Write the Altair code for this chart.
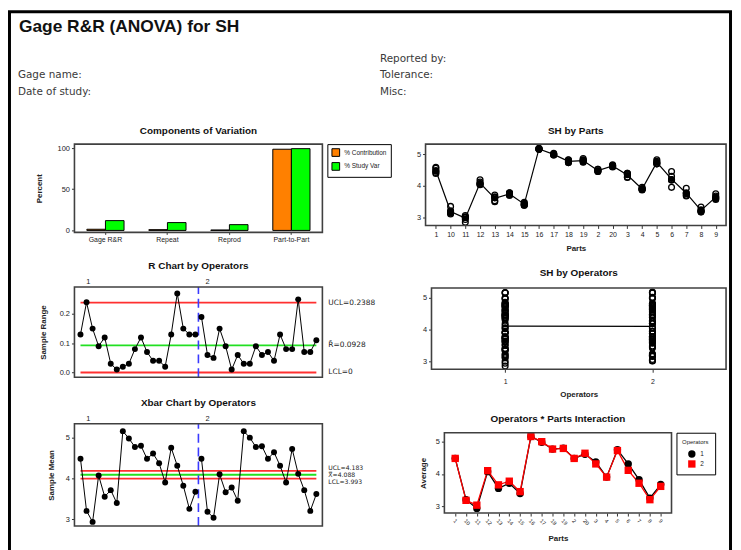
import altair as alt
import pandas as pd

# ---------------- data ----------------
parts = ["1", "10", "11", "12", "13", "14", "15", "16", "17", "18",
         "19", "2", "20", "3", "4", "5", "6", "7", "8", "9"]
operators = ["1", "2"]

op1_trial1 = [4.55, 3.35, 3.00, 4.12, 3.62, 3.73, 3.39, 5.17, 5.00, 4.81, 4.86, 4.52, 4.63, 4.39, 3.91, 4.82, 4.45, 3.92, 3.33, 3.75]
op1_trial2 = [4.47, 3.14, 2.94, 4.06, 3.53, 3.70, 3.40, 5.16, 4.97, 4.77, 4.80, 4.47, 4.61, 4.37, 3.90, 4.74, 4.30, 3.77, 3.22, 3.64]
op1_trial3 = [4.42, 3.11, 2.85, 4.03, 3.50, 3.70, 3.39, 5.15, 4.97, 4.73, 4.74, 4.45, 4.59, 4.35, 3.89, 4.69, 4.18, 3.77, 3.20, 3.62]
op2_trial1 = [4.58, 3.21, 3.06, 4.19, 3.71, 3.78, 3.48, 5.18, 5.02, 4.82, 4.82, 4.52, 4.66, 4.39, 3.95, 4.77, 4.20, 3.75, 3.24, 3.68]
op2_trial2 = [4.47, 3.18, 3.02, 4.07, 3.65, 3.77, 3.45, 5.15, 4.99, 4.76, 4.79, 4.47, 4.64, 4.28, 3.88, 4.71, 4.18, 3.70, 3.19, 3.59]
op2_trial3 = [4.39, 3.15, 3.01, 4.04, 3.62, 3.77, 3.42, 5.15, 4.99, 4.73, 4.76, 4.45, 4.62, 4.26, 3.87, 4.69, 3.95, 3.68, 3.17, 3.57]

components = ["Gage R&R", "Repeat", "Reprod", "Part-to-Part"]
component_types = ["% Contribution", "% Study Var"]
pct_contribution = [1.4, 0.9, 0.5, 98.6]
pct_study_var = [11.9, 9.5, 7.0, 99.3]

r_limit_values = [0.2388, 0.0928, 0.0]
r_limit_labels = ["UCL=0.2388", "R\u0304=0.0928", "LCL=0"]
x_limit_values = [4.183, 4.088, 3.993]
x_limit_labels = ["UCL=4.183", "X\u033F=4.088", "LCL=3.993"]
limit_kinds = ["limit", "center", "limit"]

op_label_samples = [2.3, 22.0]
operator_boundary = 20.5

header_labels = ["Reported by:", "Gage name:", "Tolerance:", "Date of study:", "Misc:"]
header_cols = [1, 0, 1, 0, 1]
header_rows = [0, 1, 1, 2, 2]
main_title = "Gage R&R (ANOVA) for SH"

# ---------------- tables ----------------
rows = []
for op, trials in (("1", [op1_trial1, op1_trial2, op1_trial3]),
                   ("2", [op2_trial1, op2_trial2, op2_trial3])):
    for t, vals in enumerate(trials, 1):
        for i, (p, v) in enumerate(zip(parts, vals)):
            rows.append(dict(Part=p, Operator=op, Trial=t, SH=v,
                             Sample=(0 if op == "1" else len(parts)) + i + 1))
ind = pd.DataFrame(rows)
sub = (ind.groupby(["Operator", "Part", "Sample"], as_index=False)
          .agg(Mean=("SH", "mean"), Range=("SH", lambda s: s.max() - s.min()))
          .sort_values(["Operator", "Sample"]))
part_mean = ind.groupby("Part", as_index=False)["SH"].mean()
op_mean = ind.groupby("Operator", as_index=False)["SH"].mean()
first_sample, last_sample = 1, 2 * len(parts)

# ---------------- layout ----------------
FONT = "Liberation Sans"
W, H = 731, 542
SAMPLE_DOMAIN = [0, 41]
layers = []


def lin(domain, rng):
    return alt.Scale(domain=list(domain), range=list(rng), nice=False, zero=False)


def panel_frame(xr, yr, title, dy):
    fdf = pd.DataFrame({"x0": [0.0], "x1": [1.0], "y0": [0.0], "y1": [1.0],
                        "xm": [0.5], "title": [title]})
    box = alt.Chart(fdf).mark_rect(fillOpacity=0, stroke="#404040", strokeWidth=1.6).encode(
        x=alt.X("x0:Q", scale=lin([0, 1], xr), axis=None), x2="x1:Q",
        y=alt.Y("y0:Q", scale=lin([0, 1], yr), axis=None), y2="y1:Q")
    ttl = alt.Chart(fdf).mark_text(dy=dy, font=FONT, fontSize=10, fontWeight="bold",
                                   color="#111", baseline="middle").encode(
        x=alt.X("xm:Q", scale=lin([0, 1], xr), axis=None),
        y=alt.Y("y1:Q", scale=lin([0, 1], yr), axis=None),
        text="title:N")
    return [box, ttl]


# page frame
pf = pd.DataFrame({"x0": [0], "x1": [1], "y0": [0], "y1": [1]})
layers.append(alt.Chart(pf).mark_rect(fillOpacity=0, stroke="black", strokeWidth=3).encode(
    x=alt.X("x0:Q", scale=lin([0, 1], [1.5, 728.5]), axis=None), x2="x1:Q",
    y=alt.Y("y0:Q", scale=lin([0, 1], [1.5, 620]), axis=None), y2="y1:Q"))

# header
tdf = pd.DataFrame({"text": [main_title], "c": [0], "r": [0]})
layers.append(alt.Chart(tdf).mark_text(align="left", baseline="middle", font=FONT,
                                       fontSize=17.5, fontWeight="bold", color="#111").encode(
    x=alt.X("c:Q", scale=lin([0, 1], [11, 300]), axis=None),
    y=alt.Y("r:Q", scale=lin([0, 1], [17, 100]), axis=None),
    text="text:N"))
hdf = pd.DataFrame({"label": header_labels, "col": header_cols, "row": header_rows})
layers.append(alt.Chart(hdf).mark_text(align="left", baseline="middle", font="DejaVu Sans",
                                       fontSize=10.5, color="#3a3a3a").encode(
    x=alt.X("col:Q", scale=lin([0, 1], [10, 375]), axis=None),
    y=alt.Y("row:Q", scale=lin([0, 2], [49, 82]), axis=None),
    text="label:N"))

# ---- Panel 1: Components of Variation
comp_df = pd.DataFrame({
    "Component": components * 2,
    "Type": [component_types[0]] * len(components) + [component_types[1]] * len(components),
    "Percent": pct_contribution + pct_study_var})
layers.append(alt.Chart(comp_df).mark_bar(stroke="black", strokeWidth=1).encode(
    x=alt.X("Component:N",
            scale=alt.Scale(domain=components, range=[67, 317], paddingInner=0.4, paddingOuter=0.2),
            axis=alt.Axis(orient="bottom", offset=224 - H, title="", labelAngle=0,
                          tickSize=2, labelPadding=1)),
    xOffset=alt.XOffset("Type:N", scale=alt.Scale(domain=component_types)),
    y=alt.Y("Percent:Q", scale=lin([-2.4, 104.8], [224, 135]),
            axis=alt.Axis(orient="left", offset=-67, values=[0, 50, 100], title="Percent",
                          titlePadding=14, labelFontSize=7.5)),
    color=alt.Color("Type:N", scale=alt.Scale(domain=component_types, range=["#FF8000", "#00FF00"]),
                    legend=alt.Legend(orient="none", legendX=322, legendY=135, title=None,
                                      labelFont=FONT, labelFontSize=6.5, labelColor="#222",
                                      symbolType="square", symbolSize=60, symbolStrokeColor="black",
                                      symbolStrokeWidth=1, strokeColor="black", fillColor="white",
                                      padding=4, rowPadding=1, labelLimit=80))))
layers += panel_frame((67, 317), (224, 135), "Components of Variation", -13)

# ---- Panel 2: SH by Parts
SH_DOM = [2.75, 5.3125]


def xs_parts():
    return alt.Scale(type="point", domain=parts, range=[421, 724], padding=0.7)


layers.append(alt.Chart(ind).mark_point(shape="circle", filled=False, color="black", size=34,
                                        strokeWidth=1.3, opacity=1).encode(
    x=alt.X("Part:N", scale=xs_parts(),
            axis=alt.Axis(orient="bottom", offset=217 - H, title="Parts", labelAngle=0, titlePadding=7)),
    y=alt.Y("SH:Q", scale=lin(SH_DOM, [217, 135]),
            axis=alt.Axis(orient="left", offset=-421, values=[3, 4, 5], title="", labelFontSize=7.5))))
layers.append(alt.Chart(part_mean).mark_line(color="black", strokeWidth=1.2).encode(
    x=alt.X("Part:N", scale=xs_parts(), axis=None),
    y=alt.Y("SH:Q", scale=lin(SH_DOM, [217, 135]), axis=None)))
layers.append(alt.Chart(part_mean).mark_circle(color="black", size=34, opacity=1).encode(
    x=alt.X("Part:N", scale=xs_parts(), axis=None),
    y=alt.Y("SH:Q", scale=lin(SH_DOM, [217, 135]), axis=None)))
layers += panel_frame((421, 724), (217, 135), "SH by Parts", -13)


# ---- Panels 3 & 5: control charts
def control_panel(field, ydom, yr, values, fmt, ytitle, tpad, lim_values, lim_labels, lab_size, lab_dy):
    xr = [67, 317]
    out = []
    lim = pd.DataFrame({"value": lim_values, "label": lim_labels, "kind": limit_kinds,
                        "start": [first_sample] * 3, "end": [last_sample] * 3,
                        "right": [SAMPLE_DOMAIN[1]] * 3})
    out.append(alt.Chart(lim).mark_rule(strokeWidth=1.8).encode(
        x=alt.X("start:Q", scale=lin(SAMPLE_DOMAIN, xr), axis=None), x2="end:Q",
        y=alt.Y("value:Q", scale=lin(ydom, yr), axis=None),
        color=alt.Color("kind:N", scale=alt.Scale(domain=["limit", "center"],
                                                  range=["#FF3030", "#22E022"]), legend=None)))
    sep = pd.DataFrame({"x": [operator_boundary], "y0": [ydom[0]], "y1": [ydom[1]]})
    out.append(alt.Chart(sep).mark_rule(color="#3A3AFF", strokeWidth=1.6, strokeDash=[9, 5]).encode(
        x=alt.X("x:Q", scale=lin(SAMPLE_DOMAIN, xr), axis=None),
        y=alt.Y("y0:Q", scale=lin(ydom, yr), axis=None), y2="y1:Q"))
    out.append(alt.Chart(sub).mark_line(color="black", strokeWidth=1).encode(
        x=alt.X("Sample:Q", scale=lin(SAMPLE_DOMAIN, xr), axis=None),
        y=alt.Y(f"{field}:Q", scale=lin(ydom, yr), axis=None),
        detail="Operator:N"))
    axis_kw = dict(orient="left", offset=-67, values=values, title=ytitle, titlePadding=tpad,
                   labelFontSize=7.5)
    if fmt:
        axis_kw["format"] = fmt
    out.append(alt.Chart(sub).mark_circle(color="black", size=36, opacity=1).encode(
        x=alt.X("Sample:Q", scale=lin(SAMPLE_DOMAIN, xr), axis=None),
        y=alt.Y(f"{field}:Q", scale=lin(ydom, yr), axis=alt.Axis(**axis_kw))))
    for k in range(3):
        one = lim.iloc[[k]]
        out.append(alt.Chart(one).mark_text(align="left", baseline="middle", dx=6, dy=lab_dy[k],
                                            font="DejaVu Sans", fontSize=lab_size, color="#222").encode(
            x=alt.X("right:Q", scale=lin(SAMPLE_DOMAIN, xr), axis=None),
            y=alt.Y("value:Q", scale=lin(ydom, yr), axis=None),
            text="label:N"))
    opl = pd.DataFrame({"pos": op_label_samples, "label": operators, "top": [ydom[1]] * 2})
    out.append(alt.Chart(opl).mark_text(baseline="bottom", dy=-1, font=FONT, fontSize=7.5,
                                        color="#222").encode(
        x=alt.X("pos:Q", scale=lin(SAMPLE_DOMAIN, xr), axis=None),
        y=alt.Y("top:Q", scale=lin(ydom, yr), axis=None), text="label:N"))
    return out


layers += control_panel("Range", [-0.016, 0.2925], [370, 279], [0, 0.1, 0.2], ".1f", "Sample Range", 12,
                        r_limit_values, r_limit_labels, 7.5, [0, 0, 0])
layers += panel_frame((67, 317), (370, 279), "R Chart by Operators", -21)
layers += control_panel("Mean", [2.83, 5.34], [520, 417], [3, 4, 5], "", "Sample Mean", 10,
                        x_limit_values, x_limit_labels, 6.2, [-3, 0, 3])
layers += panel_frame((67, 317), (520, 417), "Xbar Chart by Operators", -21)


# ---- Panel 4: SH by Operators
def xs_ops():
    return alt.Scale(type="point", domain=operators, range=[427, 724], padding=0.5)


layers.append(alt.Chart(ind).mark_point(shape="circle", filled=False, color="black", size=34,
                                        strokeWidth=1.3, opacity=1).encode(
    x=alt.X("Operator:N", scale=xs_ops(),
            axis=alt.Axis(orient="bottom", offset=362 - H, title="Operators", labelAngle=0,
                          labelPadding=5, titlePadding=6)),
    y=alt.Y("SH:Q", scale=lin(SH_DOM, [362, 280]),
            axis=alt.Axis(orient="left", offset=-427, values=[3, 4, 5], title="", labelFontSize=7.5))))
layers.append(alt.Chart(op_mean).mark_line(color="black", strokeWidth=1.2).encode(
    x=alt.X("Operator:N", scale=xs_ops(), axis=None),
    y=alt.Y("SH:Q", scale=lin(SH_DOM, [362, 280]), axis=None)))
layers += panel_frame((427, 724), (362, 280), "SH by Operators", -15)


# ---- Panel 6: Operators * Parts Interaction
def xs_int():
    return alt.Scale(type="point", domain=parts, range=[440, 669], padding=1.4)


INT_DOM = [2.785, 5.277]
leg6 = dict(orient="none", legendX=674, legendY=426, title="Operators", titleFont=FONT,
            titleFontSize=6, titleFontWeight="normal", titleAnchor="middle", titleColor="#222",
            labelFont=FONT, labelFontSize=6.5, labelColor="#222", symbolSize=55,
            strokeColor="black", fillColor="white", padding=6, rowPadding=1)
layers.append(alt.Chart(sub).mark_line(strokeWidth=1.3).encode(
    x=alt.X("Part:N", scale=xs_int(), axis=None),
    y=alt.Y("Mean:Q", scale=lin(INT_DOM, [507, 426]), axis=None),
    color=alt.Color("Operator:N", scale=alt.Scale(domain=operators, range=["black", "#FF0000"]),
                    legend=None)))
layers.append(alt.Chart(sub).mark_point(filled=True, size=55, opacity=1).encode(
    x=alt.X("Part:N", scale=xs_int(),
            axis=alt.Axis(orient="bottom", offset=507 - H, title="Parts", labelAngle=45,
                          labelFontSize=5.5, titlePadding=8)),
    y=alt.Y("Mean:Q", scale=lin(INT_DOM, [507, 426]),
            axis=alt.Axis(orient="left", offset=-440, values=[3, 4, 5], title="Average",
                          titlePadding=8, labelFontSize=7.5)),
    color=alt.Color("Operator:N", scale=alt.Scale(domain=operators, range=["black", "#FF0000"]),
                    legend=alt.Legend(**leg6)),
    shape=alt.Shape("Operator:N", scale=alt.Scale(domain=operators, range=["circle", "square"]),
                    legend=alt.Legend(**leg6))))
layers += panel_frame((440, 669), (507, 426), "Operators * Parts Interaction", -14)

chart = alt.layer(*layers).resolve_scale(
    x="independent", y="independent", color="independent", shape="independent"
).resolve_axis(
    x="independent", y="independent"
).resolve_legend(
    color="independent", shape="independent"
).properties(
    width=W, height=H, padding=0, autosize=alt.AutoSizeParams(type="none")
).configure_view(
    strokeWidth=0
).configure_axis(
    labelFont=FONT, labelFontSize=7, labelColor="#222", tickColor="#333", tickSize=3,
    domain=False, grid=False, titleFont=FONT, titleFontSize=8, titleFontWeight="bold",
    titleColor="#222", labelPadding=2
)

chart.save("out.html", embed_options={"renderer": "svg", "actions": False})
